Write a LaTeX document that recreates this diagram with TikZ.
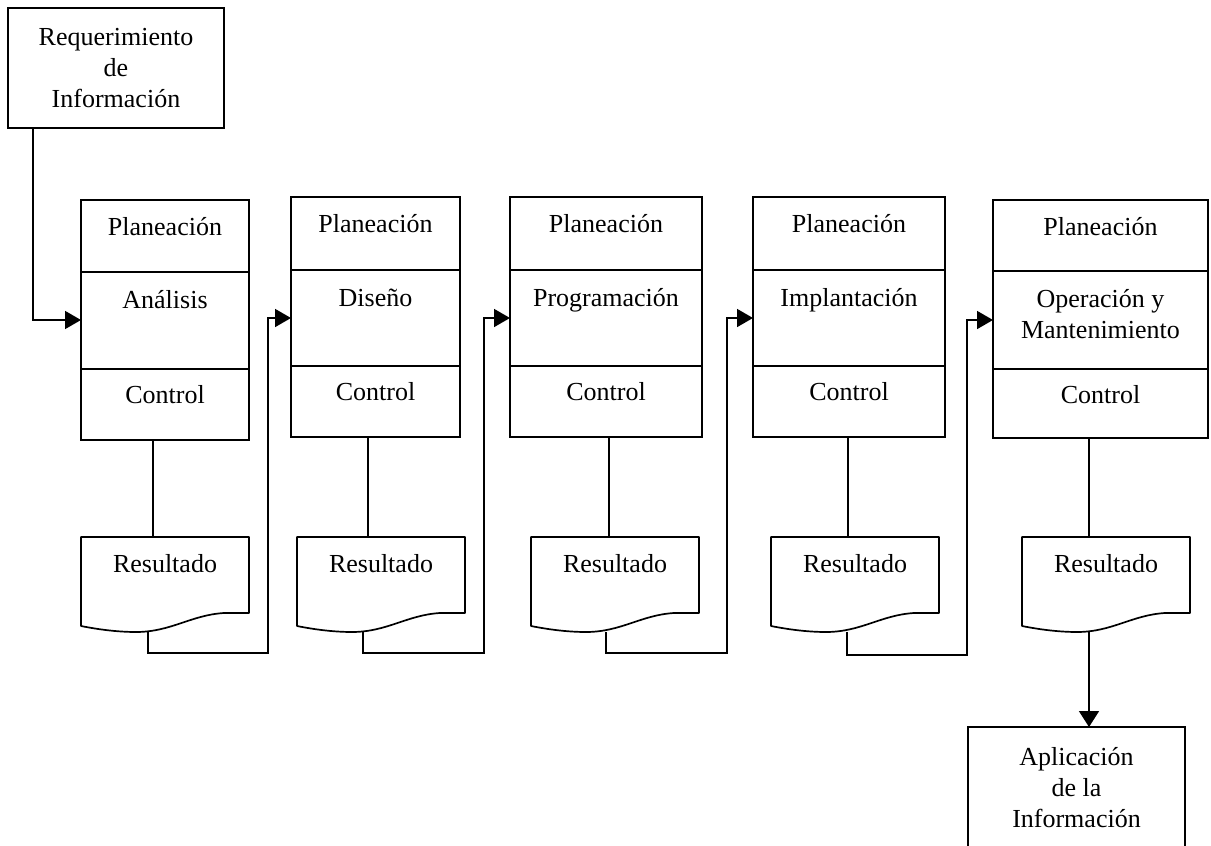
\documentclass[tikz,border=0pt]{standalone}
\usepackage{fontspec}
\setmainfont{Liberation Serif}
\usetikzlibrary{arrows.meta}
\newcommand{\bigfont}{\fontsize{26bp}{31bp}\selectfont}
\tikzset{
  ln/.style={line width=1.7bp},
  box/.style={draw, ln, outer sep=0pt, inner sep=0pt},
  arr/.style={ln, -{Triangle[length=16bp,width=18bp]}},
  lbl/.style={anchor=base, inner sep=0pt, font=\bigfont},
  mtext/.style={align=center, inner sep=0pt, font=\bigfont},
}
% #1 name, #2 left x, #3 width, #4 top, #5 div1, #6 div2, #7 bottom, #8 middle text
\newcommand{\stagebox}[8]{%
  \node[box, anchor=north west, minimum width=#3bp, minimum height={(#7-#4)*1bp}] (#1) at (#2,#4) {};
  \draw[ln] (#2,#5) -- ++(#3,0);
  \draw[ln] (#2,#6) -- ++(#3,0);
  \node[lbl] (#1p) at ({#2+#3/2},{#4+35}) {Planeación};
  \node[lbl] (#1m) at ({#2+#3/2},{#5+36}) {#8};
  \node[lbl] (#1c) at ({#2+#3/2},{#6+34}) {Control};
}
% #1 name, #2 left x
\newcommand{\resdoc}[2]{%
  \begin{scope}[shift={(#2,537)}]
    \draw[ln, line join=round] (0,0) -- (168,0) -- (168,76) -- (143,76)
      .. controls (110,78) and (90,95) .. (55,95)
      .. controls (35,95) and (15,92) .. (0,89) -- cycle;
    \node[lbl] (#1) at (84,35) {Resultado};
  \end{scope}
}
\begin{document}
\begin{tikzpicture}[x=1bp,y=-1bp]
\useasboundingbox (0,0) rectangle (1211,846);

% initial requirement
\node[box, mtext, minimum width=216bp, minimum height=120bp] (req) at (116,68)
  {Requerimiento\\de\\Información};

% stages
\stagebox{s1}{81}{168}{200}{272}{369}{440}{Análisis}
\stagebox{s2}{291}{169}{197}{270}{366}{437}{Diseño}
\stagebox{s3}{510}{192}{197}{270}{366}{437}{Programación}
\stagebox{s4}{753}{192}{197}{270}{366}{437}{Implantación}
\stagebox{s5}{993}{215}{200}{271}{369}{438}{Operación y}
\node[lbl] (s5m2) at (1100.5,338) {Mantenimiento};

% results
\resdoc{r1}{81}
\resdoc{r2}{297}
\resdoc{r3}{531}
\resdoc{r4}{771}
\resdoc{r5}{1022}

% final box
\node[box, mtext, minimum width=217bp, minimum height=122bp, anchor=north] (apl) at (1076.5,727)
  {Aplicación\\de la\\Información};

% connection points
\coordinate (r1in) at (153,537);
\coordinate (r2in) at (368,537);
\coordinate (r3in) at (609,537);
\coordinate (r4in) at (848,537);
\coordinate (r5in) at (1089,537);
\coordinate (r1out) at (148,632);
\coordinate (r2out) at (363,632);
\coordinate (r3out) at (606,632);
\coordinate (r4out) at (847,632);
\coordinate (r5out) at (1089,632);

% stage -> result
\draw[ln] (s1.south -| r1in) -- (r1in);
\draw[ln] (s2.south -| r2in) -- (r2in);
\draw[ln] (s3.south -| r3in) -- (r3in);
\draw[ln] (s4.south -| r4in) -- (r4in);
\draw[ln] (s5.south -| r5in) -- (r5in);

% requirement -> stage 1
\draw[arr] (req.south -| 33,0) |- (s1.west |- 0,320);

% result -> next stage
\draw[arr] (r1out) |- (268,653) |- (s2.west |- 0,318);
\draw[arr] (r2out) |- (484,653) |- (s3.west |- 0,318);
\draw[arr] (r3out) |- (727,653) |- (s4.west |- 0,318);
\draw[arr] (r4out) |- (967,655) |- (s5.west |- 0,320);

% last result -> application
\draw[ln, -{Triangle[length=16bp,width=20bp]}] (r5out) -- (r5out |- apl.north);
\end{tikzpicture}
\end{document}
